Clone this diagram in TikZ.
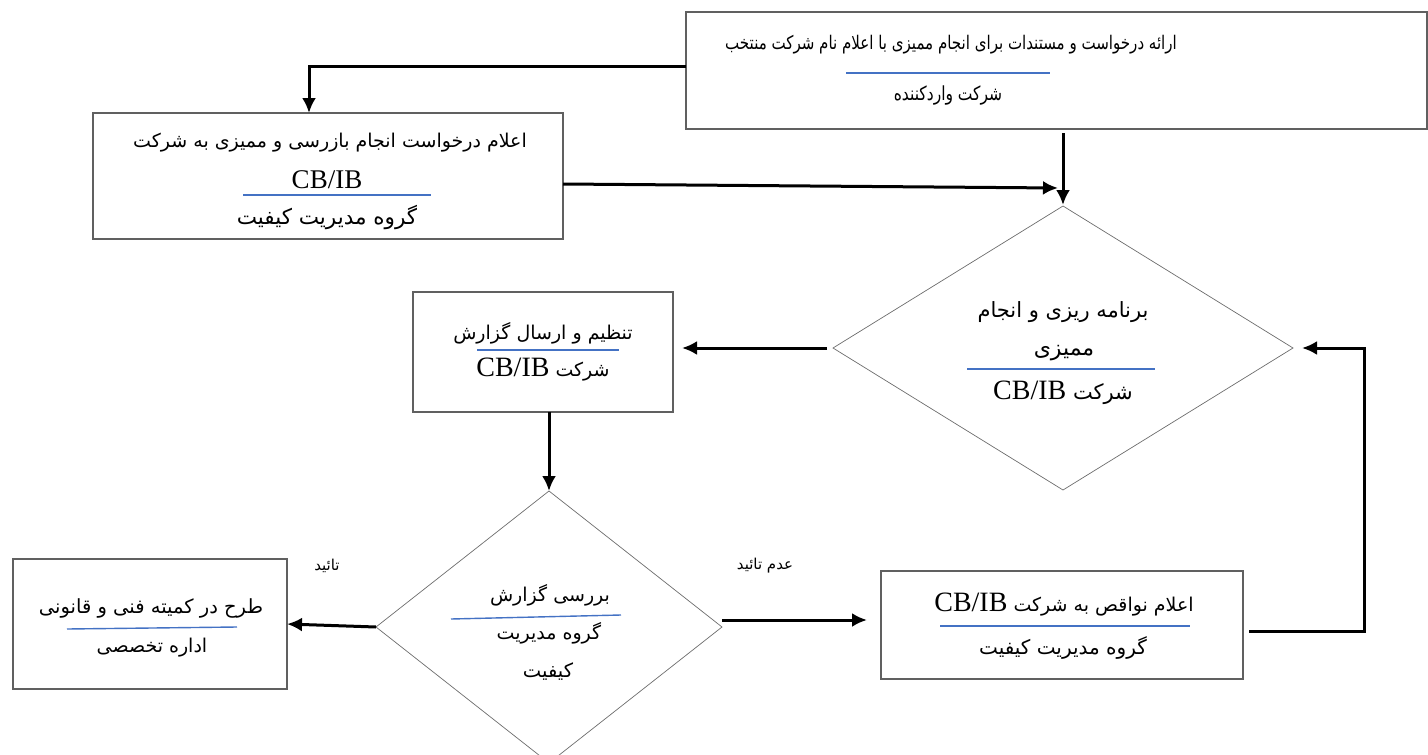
\documentclass[tikz,border=0pt]{standalone}
\usepackage{fontspec}
\setmainfont{Liberation Serif}
\newfontfamily\farsi[Script=Arabic]{DejaVu Sans}
\newfontfamily\farsinarrow[Script=Arabic,FakeStretch=0.8]{DejaVu Sans}
\TeXXeTstate=1
\usetikzlibrary{arrows.meta,shapes.geometric}
\definecolor{rulecol}{HTML}{4472C4}
\newcommand{\fatext}[1]{\beginR #1\endR}
\newcommand{\cbib}{\beginL{\rmfamily\fontsize{28}{32}\selectfont CB/IB}\endL}

\begin{document}
\begin{tikzpicture}[x=1pt,y=-1pt,
            box/.style={draw=gray!75!black,line width=1.1pt,rectangle,inner sep=0pt,outer sep=0pt},
            decision/.style={draw=gray!85!black,line width=0.7pt,diamond,inner sep=0pt,outer sep=0pt},
            txt/.style={inner sep=0pt,font=\farsi\fontsize{#1}{#1}\selectfont},
            txt/.default=19,
            narrowtxt/.style={inner sep=0pt,font=\farsinarrow\fontsize{#1}{#1}\selectfont},
            lab/.style={inner sep=0pt,font=\farsi\fontsize{15}{17}\selectfont},
            sep/.style={draw=rulecol,line width=1.4pt},
            flow/.style={draw,line width=3pt,-{Latex[length=15pt,width=14pt]}}
          ]
          \useasboundingbox (0,0) rectangle (1428,755);

          \node[box,minimum width=741pt,minimum height=117pt] (request) at (1056.5,70.5) {};
          \node[box,minimum width=470pt,minimum height=126pt] (notify) at (328,176) {};
          \node[decision,minimum width=460pt,minimum height=284pt] (plan) at (1063,348) {};
          \node[box,minimum width=260pt,minimum height=120pt] (report) at (543,352) {};
          \node[decision,minimum width=346pt,minimum height=272pt] (review) at (549,627) {};
          \node[box,minimum width=274pt,minimum height=130pt] (committee) at (150,624) {};
          \node[box,minimum width=362pt,minimum height=108pt] (defect) at (1062,625) {};

          %texts
          \node[narrowtxt=18.8] (request1) at (951,45) {\fatext{ارائه درخواست و مستندات برای انجام ممیزی با اعلام نام شرکت منتخب}};
          \node[narrowtxt=19.4] (request2) at (948,95) {\fatext{شرکت واردکننده}};
          \node[txt=19] (notify1) at (330,143) {\fatext{اعلام درخواست انجام بازرسی و ممیزی به شرکت}};
          \node[inner sep=0pt,font=\fontsize{27}{30}\selectfont] (notify2) at (327,180) {CB/IB};
          \node[txt=21.5] (notify3) at (327,217) {\fatext{گروه مدیریت کیفیت}};
          \node[txt=21] (plan1) at (1063,312) {\fatext{برنامه ریزی و انجام}};
          \node[txt=22] (plan2) at (1064,353) {\fatext{ممیزی}};
          \node[txt=21] (plan3) at (1063,393) {\fatext{شرکت \cbib}};
          \node[txt=19] (report1) at (543,333) {\fatext{تنظیم و ارسال گزارش}};
          \node[txt=19] (report2) at (543,370) {\fatext{شرکت \cbib}};
          \node[txt=19] (review1) at (550,595) {\fatext{بررسی گزارش}};
          \node[txt=19] (review2) at (549,633) {\fatext{گروه مدیریت}};
          \node[txt=19.5] (review3) at (548,672) {\fatext{کیفیت}};
          \node[txt=19.5] (committee1) at (151,608) {\fatext{طرح در کمیته فنی و قانونی}};
          \node[txt=19] (committee2) at (152,648) {\fatext{اداره تخصصی}};
          \node[txt=19] (defect1) at (1064,605) {\fatext{اعلام نواقص به شرکت \cbib}};
          \node[txt=20] (defect2) at (1063,648) {\fatext{گروه مدیریت کیفیت}};

          %labels
          \node[lab] (yes) at (327,566) {\fatext{تائید}};
          \node[lab] (no) at (765,566) {\fatext{عدم تائید}};

          %blue rules
          \path[sep] (846,73) -- (1050,73);
          \path[sep] (243,195) -- (431,195);
          \path[sep] (967,369) -- (1155,369);
          \path[sep] (477,350) -- (619,350);
          \path[sep] (451,619) -- (621,615);
          \path[sep] (67,629) -- (237,627);
          \path[sep] (940,626) -- (1190,626);

          %arrows
          \coordinate (meet) at (1058,188);
          \path[flow] ([yshift=4.5pt]request.west) -| ([xshift=-19pt]notify.north);
          \path[flow,shorten <=4pt,shorten >=1pt] (request.south -| plan.north) -- (plan.north);
          \path[flow] ([yshift=-8pt]notify.east) -- (meet);
          \path[flow,shorten <=6pt,shorten >=9pt] (plan.west) -- (plan.west -| report.east);
          \path[flow] (report.south -| review.north) -- (review.north);
          \path[flow] (review.west) -- (committee.east);
          \path[flow,shorten >=14pt] ([yshift=7pt]review.east) -- ([yshift=7pt]review.east -| defect.west);
          \path[flow,shorten >=9pt] ([xshift=6pt,yshift=-6pt]defect.east) -- ++(115,0) |- (plan.east);
      \end{tikzpicture}
\end{document}
